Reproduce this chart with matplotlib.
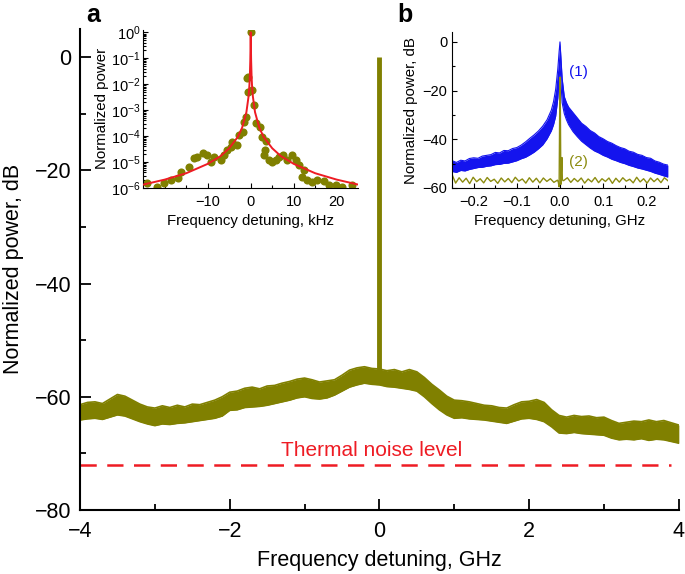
import numpy as np
import matplotlib
matplotlib.use('Agg')
import matplotlib.pyplot as plt
from matplotlib.ticker import MultipleLocator, FixedLocator, LogLocator, NullFormatter
from matplotlib import font_manager

# ---------------- data ----------------
# Main panel: envelope (upper / lower) of the measured spectrum, GHz vs dB
main_x = np.round(np.arange(-4.0, 4.0001, 0.1), 1)
main_upper = [-61.4, -61.0, -60.9, -61.2, -60.4, -59.6, -59.9, -60.6, -61.3, -61.8,
              -62.0, -61.6, -61.9, -61.5, -61.8, -61.3, -61.4, -61.0, -60.6, -60.0,
              -59.2, -59.0, -58.5, -58.3, -58.6, -58.1, -58.0, -57.6, -57.3, -56.9,
              -56.7, -57.0, -57.4, -57.2, -57.0, -56.2, -55.3, -54.9, -54.7, -55.0,
              -55.1, -55.4, -55.2, -55.6, -55.2, -55.6, -56.6, -57.8, -58.8, -59.9,
              -60.6, -60.7, -60.9, -61.2, -61.5, -61.6, -61.9, -62.0, -61.4, -60.9,
              -60.8, -60.5, -61.0, -62.3, -63.3, -63.6, -63.3, -63.5, -63.4, -63.7,
              -63.6, -64.2, -64.7, -64.5, -64.3, -64.4, -64.1, -64.4, -64.2, -64.6,
              -65.0]
main_lower = [-64.1, -63.9, -63.8, -64.0, -63.6, -63.2, -63.4, -63.9, -64.4, -64.8,
              -65.1, -64.8, -64.9, -64.7, -64.6, -64.4, -64.2, -64.0, -63.8, -63.4,
              -62.4, -62.3, -61.9, -61.8, -61.7, -61.5, -61.2, -60.9, -60.6, -60.2,
              -60.0, -60.3, -60.4, -60.2, -59.7, -59.0, -58.3, -57.9, -57.6, -57.8,
              -57.9, -58.2, -58.3, -58.5, -58.7, -59.0, -60.0, -61.2, -62.3, -63.2,
              -63.8, -63.7, -63.9, -64.0, -64.1, -64.3, -64.5, -64.7, -64.3, -63.9,
              -63.8, -64.0, -64.4, -65.3, -66.4, -66.5, -66.3, -66.5, -66.6, -66.7,
              -66.8, -67.3, -67.6, -67.5, -67.6, -67.4, -67.7, -67.5, -67.6, -67.9,
              -68.2]
spike_x = [0.0, 0.0]
spike_y = [-56.5, 0.0]
thermal_x = [-4.0, 3.9]
thermal_y = [-72.0, -72.0]
main_xticks = [-4, -2, 0, 2, 4]
main_yticks = [-80, -60, -40, -20, 0]

# Inset a: measured points (kHz, log10 normalized power) and fit curve
a_pts_x = [0.1, -0.6, 0.4, -0.8, 0.8, -0.6, -1.2, 1.2, -1.6, 2.1, -1.9, 2.6, -2.7,
           3.5, -3.1, 3.3, -4.3, 3.1, -4.65, 4.3, -5.4, 5.0, -6.2, 5.8, -7.0, 6.6,
           -8.5, 7.4, -9.3, 8.5, -10.1, 9.7, -11.2, 10.5, -12.4, 11.2, -13.2, 12.4,
           -14.3, 12.0, -16.3, 13.2, -17.0, 14.3, -18.6, 15.5, -20.2, 17.0, -21.7,
           18.2, -24.0, 19.8, 21.3, 23.6]
a_pts_logy = [0.0, -1.72, -2.23, -1.76, -2.8, -2.29, -3.26, -3.5, -3.45, -3.64, -3.83,
              -4.03, -3.96, -4.2, -4.35, -4.54, -4.22, -4.73, -4.41, -4.92, -4.54, -5.0,
              -4.73, -4.92, -4.92, -4.8, -4.8, -4.73, -5.0, -4.92, -4.73, -4.73, -4.67,
              -4.92, -4.8, -5.1, -4.86, -5.3, -5.18, -5.56, -5.37, -5.7, -5.63, -5.76,
              -5.69, -5.7, -5.82, -5.73, -5.95, -5.88, -5.82, -5.88, -5.95, -5.88]
a_fit_x = [-25, -20, -15, -10, -7, -5, -3, -2, -1, -0.5, -0.3, -0.2, -0.1, -0.05, 0.0,
           0.05, 0.1, 0.2, 0.3, 0.5, 1, 2, 3, 5, 7, 10, 15, 20, 25]
a_fit_y = [1.35e-6, 2.1e-6, 3.7e-6, 8.5e-6, 1.7e-5, 3.4e-5, 9.3e-5, 2.1e-4, 8.4e-4,
           3.4e-3, 9.3e-3, 2.1e-2, 8.0e-2, 2.6e-1, 1.0,
           2.6e-1, 8.0e-2, 2.1e-2, 9.3e-3, 3.4e-3, 8.4e-4, 2.1e-4, 9.3e-5, 3.4e-5,
           1.7e-5, 8.5e-6, 3.7e-6, 2.1e-6, 1.35e-6]
a_xticks = [-10, 0, 10, 20]

# Inset b: (1) blue band envelope, (2) olive trace (GHz vs dB)
b1_x = [-0.25, -0.24, -0.23, -0.22, -0.21, -0.20, -0.19, -0.18, -0.17, -0.16, -0.15,
        -0.14, -0.13, -0.12, -0.11, -0.10, -0.09, -0.08, -0.07, -0.06, -0.05, -0.04,
        -0.03, -0.02, -0.015, -0.01, -0.005, -0.002, 0.0, 0.002, 0.005, 0.01, 0.015,
        0.02, 0.03, 0.04, 0.05, 0.06, 0.07, 0.08, 0.09, 0.10, 0.11, 0.12, 0.13, 0.14,
        0.15, 0.16, 0.17, 0.18, 0.19, 0.20, 0.21, 0.22, 0.23, 0.24, 0.25]
b1_top = [-48.8, -49.5, -48.6, -48.9, -47.9, -47.6, -47.8, -46.9, -46.6, -46.3, -45.4,
          -45.6, -44.6, -44.7, -43.8, -43.4, -42.4, -41.1, -39.6, -38.2, -36.6, -34.6,
          -32.0, -28.0, -24.6, -19.5, -11.0, -4.0, 0.0, -6.0, -15.0, -22.5, -25.0,
          -26.8, -29.0, -31.2, -33.4, -34.7, -36.4, -37.4, -38.9, -39.8, -40.9, -41.6,
          -42.6, -43.4, -43.9, -44.9, -45.3, -46.2, -46.6, -47.5, -47.8, -48.9, -49.4,
          -50.2, -50.6]
b1_bot = [-53.2, -53.6, -52.8, -53.0, -52.4, -52.0, -51.6, -51.5, -51.1, -50.9, -50.4,
          -50.3, -49.9, -49.8, -49.3, -48.8, -48.0, -47.4, -46.4, -45.3, -43.9, -42.3,
          -39.8, -36.5, -34.0, -30.5, -23.0, -15.0, -8.0, -16.0, -25.0, -29.5, -32.0,
          -34.0, -36.8, -38.9, -40.8, -42.2, -43.6, -44.8, -45.6, -46.6, -47.3, -48.2,
          -48.8, -49.5, -50.0, -50.7, -51.2, -51.8, -52.2, -52.7, -53.2, -53.9, -54.4,
          -55.0, -55.5]
b2_left_y = [-54.5, -58.0, -55.8, -57.6, -56.0, -58.2, -55.6, -57.4, -56.2, -57.9, -55.7,
             -57.3, -56.4, -58.1, -55.9, -57.5, -56.1, -57.8, -55.6, -57.2, -56.3, -58.0,
             -55.8, -57.6, -56.0, -57.9, -55.9, -57.3, -56.2, -57.7, -56.8]
b2_spike_x = [-0.004, -0.002, -0.001, 0.0, 0.001, 0.002, 0.003, 0.0045, 0.0055, 0.007]
b2_spike_y = [-57.5, -59.5, -35.0, -14.5, -30.0, -58.5, -54.0, -47.5, -56.5, -57.0]
b2_right_y = [-56.9, -55.8, -57.7, -56.1, -57.4, -55.9, -58.0, -56.3, -57.5, -55.7, -57.8,
              -56.2, -57.3, -55.9, -58.1, -56.0, -57.6, -55.8, -57.2, -56.4, -57.9, -55.6,
              -57.5, -56.2, -58.0, -55.9, -57.4, -56.1, -57.8, -55.8, -57.0]
b_xticks = [-0.2, -0.1, 0.0, 0.1, 0.2]
b_yticks = [-60, -40, -20, 0]

# ---------------- style ----------------
fams = {f.name for f in font_manager.fontManager.ttflist}
FONT = 'Liberation Sans Narrow' if 'Liberation Sans Narrow' in fams else 'Liberation Sans'
plt.rcParams['font.family'] = [FONT, 'DejaVu Sans']
plt.rcParams['mathtext.fontset'] = 'custom'
plt.rcParams['mathtext.rm'] = FONT
plt.rcParams['mathtext.it'] = FONT + ':italic'
plt.rcParams['mathtext.bf'] = FONT + ':bold'

OLIVE = '#808000'
RED = '#ee1c24'
BLUE = '#1414ee'
OLIVE2 = '#8c8c10'


def minus(v, fmt='{}'):
    s = fmt.format(abs(v))
    return '\u2212' + s if v < 0 else s


fig = plt.figure(figsize=(6.85, 5.74), dpi=100)

# ---------------- main axes ----------------
ax = fig.add_axes([0.1168, 0.1115, 0.8742, 0.8385])
ax.fill_between(main_x, main_lower, main_upper, color=OLIVE, lw=0)
ax.plot(main_x, main_upper, color=OLIVE, lw=1.2)
ax.plot(main_x, main_lower, color=OLIVE, lw=1.2)
ax.plot(spike_x, spike_y, color=OLIVE, lw=3.5, solid_capstyle='butt')
tl, = ax.plot(thermal_x, thermal_y, color=RED, lw=1.8)
tl.set_dashes([6.5, 4.2])
ax.text(-0.1, -69.5, 'Thermal noise level', color=RED, fontsize=15,
        ha='center', va='center')
ax.set_xlim(-4, 4)
ax.set_ylim(-80, 5)
ax.set_xticks(main_xticks)
ax.set_yticks(main_yticks)
ax.set_xticklabels([minus(v) for v in main_xticks])
ax.set_yticklabels([minus(v) for v in main_yticks])
ax.xaxis.set_minor_locator(MultipleLocator(1))
ax.yaxis.set_minor_locator(MultipleLocator(10))
ax.tick_params(which='both', direction='in', width=1.3, labelsize=15.5)
ax.tick_params(which='major', length=8)
ax.tick_params(which='minor', length=4)
ax.tick_params(axis='x', pad=8)
ax.tick_params(axis='y', pad=6)
for s in ['top', 'right']:
    ax.spines[s].set_visible(False)
for s in ['left', 'bottom']:
    ax.spines[s].set_linewidth(1.5)
ax.set_xlabel('Frequency detuning, GHz', fontsize=15.5, labelpad=6)
ax.set_ylabel('Normalized power, dB', fontsize=15.5, labelpad=8)

# ---------------- inset a ----------------
axa = fig.add_axes([0.209, 0.6725, 0.314, 0.2755])
axa.plot(a_fit_x, a_fit_y, color=RED, lw=1.4, zorder=3)
axa.scatter(a_pts_x, [10 ** v for v in a_pts_logy], s=34, color=OLIVE, lw=0, zorder=2)
axa.set_yscale('log')
axa.set_xlim(-25, 25)
axa.set_ylim(1e-6, 1.25)
axa.set_xticks(a_xticks)
axa.set_xticklabels([minus(v) for v in a_xticks])
axa.xaxis.set_minor_locator(FixedLocator([-20, -15, -5, 5, 15]))
axa.yaxis.set_major_locator(LogLocator(base=10, numticks=10))
axa.yaxis.set_minor_locator(LogLocator(base=10, subs=np.arange(2, 10), numticks=20))
axa.yaxis.set_minor_formatter(NullFormatter())
axa.tick_params(which='both', direction='in', width=0.8, labelsize=10.5)
axa.tick_params(which='major', length=3.5)
axa.tick_params(which='minor', length=2)
axa.tick_params(axis='y', pad=2)
axa.tick_params(axis='x', pad=5)
for s in ['top', 'right']:
    axa.spines[s].set_visible(False)
axa.patch.set_alpha(0)
axa.set_xlabel('Frequency detuning, kHz', fontsize=10.8, labelpad=4)
axa.set_ylabel('Normalized power', fontsize=10.8, labelpad=1)

# ---------------- inset b ----------------
axb = fig.add_axes([0.66, 0.6725, 0.315, 0.2715])
axb.fill_between(b1_x, b1_bot, b1_top, color=BLUE, lw=0)
axb.plot(b1_x, b1_top, color=BLUE, lw=0.8)
axb.plot(b1_x, b1_bot, color=BLUE, lw=0.8)
b2_x = (list(np.linspace(-0.25, -0.006, len(b2_left_y))) + b2_spike_x +
        list(np.linspace(0.009, 0.25, len(b2_right_y))))
b2_y = b2_left_y + b2_spike_y + b2_right_y
axb.plot(b2_x, b2_y, color=OLIVE2, lw=1.0)
axb.text(0.022, -12.5, '(1)', color=BLUE, fontsize=11, ha='left', va='center')
axb.text(0.022, -49.5, '(2)', color=OLIVE2, fontsize=11, ha='left', va='center')
axb.set_xlim(-0.25, 0.25)
axb.set_ylim(-60, 4)
axb.set_xticks(b_xticks)
axb.set_xticklabels([minus(v, '{:.1f}') for v in b_xticks])
axb.set_yticks(b_yticks)
axb.set_yticklabels([minus(v) for v in b_yticks])
axb.xaxis.set_minor_locator(MultipleLocator(0.05))
axb.yaxis.set_minor_locator(MultipleLocator(10))
axb.tick_params(which='both', direction='in', width=0.8, labelsize=10.5)
axb.tick_params(which='major', length=3.5)
axb.tick_params(which='minor', length=2)
axb.tick_params(axis='x', pad=5)
for s in ['top', 'right']:
    axb.spines[s].set_visible(False)
axb.patch.set_alpha(0)
axb.set_xlabel('Frequency detuning, GHz', fontsize=10.8, labelpad=4)
axb.set_ylabel('Normalized power, dB', fontsize=10.8, labelpad=3)

# panel letters
fig.text(93 / 685, 1 - 15 / 574, 'a', fontsize=18, fontweight='bold',
         family='Liberation Sans', ha='center', va='center')
fig.text(405 / 685, 1 - 15 / 574, 'b', fontsize=18, fontweight='bold',
         family='Liberation Sans', ha='center', va='center')

fig.savefig('out.png', dpi=100)
